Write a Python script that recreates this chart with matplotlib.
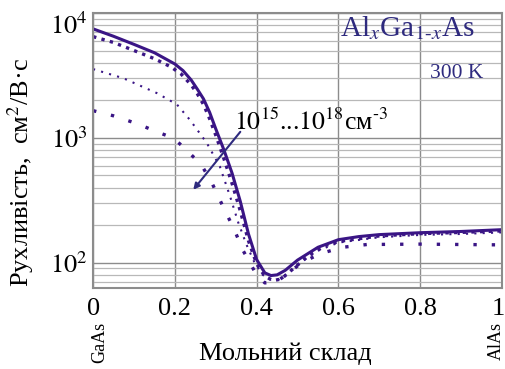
import matplotlib

matplotlib.use("Agg")
import matplotlib.pyplot as plt
import matplotlib.transforms as mtransforms
from matplotlib.ticker import FixedLocator, LogLocator, NullFormatter

plt.rcParams["font.family"] = ["Liberation Serif", "DejaVu Serif"]
plt.rcParams["mathtext.fontset"] = "stix"

# --- data (mobility, cm^2/V*s vs Al fraction x) ---
x_n15 = [0, 0.05, 0.1, 0.15, 0.2, 0.22, 0.24, 0.255, 0.27, 0.285, 0.3, 0.32,
         0.34, 0.36, 0.38, 0.4, 0.42, 0.435, 0.45, 0.47, 0.5, 0.55, 0.6, 0.65,
         0.7, 0.8, 0.9, 1.0]
mu_n15 = [7450, 6500, 5600, 4800, 3900, 3450, 2900, 2450, 2050, 1600, 1180,
          800, 520, 310, 170, 106, 83, 79, 80, 87, 105, 133, 153, 162,
          168, 174, 178, 184]

x_n16 = [0, 0.05, 0.1, 0.15, 0.19, 0.215, 0.24, 0.255, 0.27, 0.285, 0.3, 0.32,
         0.34, 0.36, 0.38, 0.4, 0.42, 0.44, 0.46, 0.49, 0.53, 0.57, 0.6, 0.7,
         0.8, 0.9, 1.0]
mu_n16 = [6460, 5800, 5000, 4300, 3700, 3250, 2650, 2250, 1850, 1420, 1050,
          680, 430, 260, 150, 98, 78, 72, 74, 90, 116, 138, 148, 164,
          171, 175, 180]

x_n17 = [0, 0.074, 0.156, 0.205, 0.237, 0.258, 0.278, 0.31, 0.335, 0.355,
         0.375, 0.395, 0.415, 0.435, 0.455, 0.48, 0.51, 0.55, 0.6, 0.7, 0.8,
         0.9, 1.0]
mu_n17 = [3550, 3000, 2280, 1850, 1390, 1120, 910, 590, 340, 210,
          140, 100, 80, 73, 74, 84, 102, 125, 145, 160, 167,
          170, 175]

x_n18 = [0, 0.05, 0.11, 0.155, 0.195, 0.22, 0.245, 0.262, 0.29, 0.317, 0.345,
         0.367, 0.398, 0.42, 0.447, 0.47, 0.51, 0.555, 0.61, 0.67, 0.8, 0.9,
         1.0]
mu_n18 = [1650, 1500, 1290, 1120, 1000, 850, 705, 630, 440, 285, 185,
          125, 82, 69, 70, 79, 100, 118, 133, 140, 141, 140,
          139]

x_ticks = [0, 0.2, 0.4, 0.6, 0.8, 1]
x_ticklabels = ["0", "0.2", "0.4", "0.6", "0.8", "1"]
y_ticks = [1e2, 1e3, 1e4]
y_ticklabels = ["$10^2$", "$10^3$", "$10^4$"]

curve_color = "#3a1585"
note_color = "#2e2a7e"

fig = plt.figure(figsize=(5.06, 3.69), dpi=100)
ax = fig.add_axes([0.184, 0.22, 0.808, 0.745])
ax.set_yscale("log")
ax.set_xlim(0, 1)
ax.set_ylim(63, 1e4)

# curves, 10^15 ... 10^18 cm^-3
ax.plot(x_n15, mu_n15, color=curve_color, lw=2.2, solid_capstyle="round")
ax.plot(x_n16, mu_n16, color=curve_color, lw=2.4, ls=(0, (1, 1.6)))
ax.plot(x_n17, mu_n17, color=curve_color, lw=1.5, ls=(0, (1, 3.0)))
ax.plot(x_n18, mu_n18, color=curve_color, lw=2.4, ls=(0, (1, 4.5)))

# axes / grid
ax.xaxis.set_major_locator(FixedLocator(x_ticks))
ax.set_xticklabels(x_ticklabels)
ax.yaxis.set_major_locator(FixedLocator(y_ticks))
ax.set_yticklabels(y_ticklabels)
ax.yaxis.set_minor_locator(LogLocator(base=10, subs=range(2, 10)))
ax.yaxis.set_minor_formatter(NullFormatter())
ax.tick_params(which="both", length=0, labelsize=19)
ax.tick_params(axis="x", pad=7)
ax.tick_params(axis="y", pad=4)
ax.get_yticklabels()[-1].set_verticalalignment("top")
# keep the "1" at the right edge inside the figure
last_x = ax.get_xticklabels()[-1]
last_x.set_transform(last_x.get_transform()
                     + mtransforms.ScaledTranslation(-4 / 100, 0, fig.dpi_scale_trans))

ax.grid(which="major", color="#8c8c8c", lw=1.0)
ax.grid(which="minor", axis="y", color="#b8b8b8", lw=0.9)
for sp in ax.spines.values():
    sp.set_color("#8c8c8c")
    sp.set_linewidth(1.5)

ax.set_xlabel("Мольний склад", fontsize=19)
ax.xaxis.set_label_coords(0.47, -0.2)
ax.set_ylabel("Рухливість,  см$^2$/В·с", fontsize=19)
ax.yaxis.set_label_coords(-0.14, 0.42)

# end-member names under the x axis
fig.text(100 / 506, 1 - 322 / 369, "GaAs", rotation=90, ha="center", va="top",
         fontsize=13)
fig.text(505 / 506, 1 - 322 / 369, "AlAs", rotation=90, ha="right", va="top",
         fontsize=13)

# annotations
ax.text(0.604, 6550, "Al$_x$Ga$_{1\u2010x}$As", color=note_color,
        fontsize=21, ha="left", va="baseline")
ax.text(0.824, 3020, "300 K", color=note_color, fontsize=15.5,
        ha="left", va="baseline")
ax.text(0.345, 1160, "$10^{15}$...$10^{18}$см$^{\u20103}$", color="black",
        fontsize=18.5, ha="left", va="baseline")
ax.annotate("", xy=(0.245, 384), xytext=(0.36, 1117),
            arrowprops=dict(arrowstyle="-|>", color=note_color, lw=1.5,
                            mutation_scale=9, shrinkA=0, shrinkB=0))

fig.savefig("out.png", dpi=100)
